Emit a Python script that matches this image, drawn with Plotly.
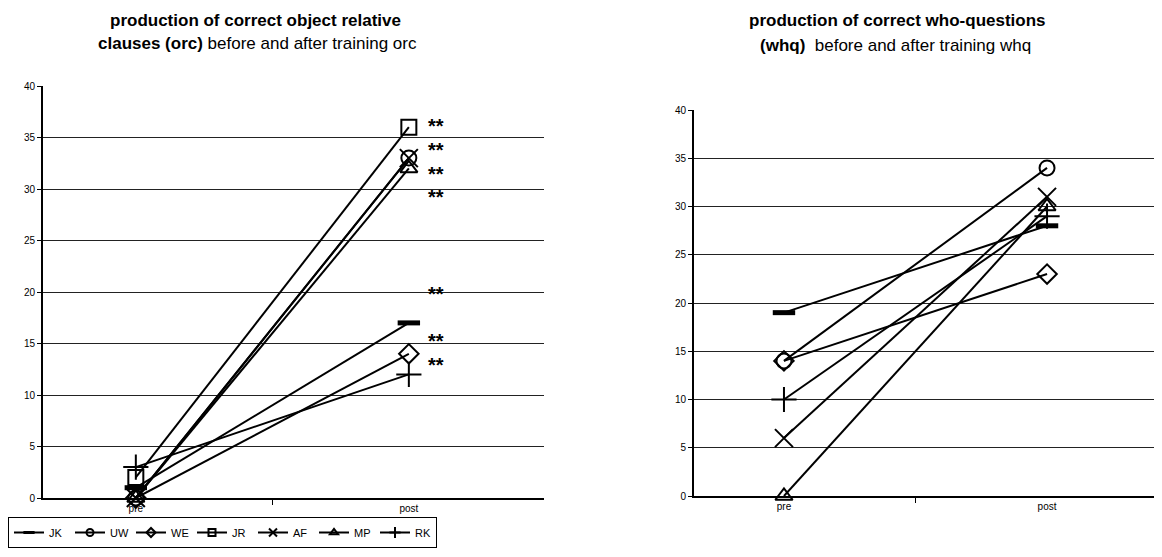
import plotly.graph_objects as go

phases = ["pre", "post"]
names = ["JK", "UW", "WE", "JR", "AF", "MP", "RK"]
symbols = ["line-ew", "circle-open", "diamond-open", "square-open", "x-thin", "triangle-up-open", "cross-thin"]

# Left chart: object relative clauses (orc)
orc = {
    "JK": [1, 17],
    "UW": [0, 33],
    "WE": [0, 14],
    "JR": [2, 36],
    "AF": [0, 33],
    "MP": [0, 32],
    "RK": [3, 12],
}
# Right chart: who-questions (whq)
whq = {
    "JK": [19, 28],
    "UW": [14, 34],
    "WE": [14, 23],
    "AF": [6, 31],
    "MP": [0, 30],
    "RK": [10, 29],
}
star_y = [36.1, 33.8, 31.5, 29.2, 19.8, 15.2, 12.9]
star_text = "**"

FONT = "Arial, Liberation Sans, sans-serif"

# page body has an 8px margin; size figure so it fills the window
OFF = 8
W = 1162 - OFF
H = 557 - OFF

def px(x):
    return max(0.0, min(1.0, (x - OFF) / W))

def py(y):
    return max(0.0, min(1.0, 1 - (y - OFF) / H))

fig = go.Figure()

def marker_for(sym, size_big=True):
    if sym == "line-ew":
        return dict(symbol=sym, size=16 if size_big else 8, color="black",
                    line=dict(color="black", width=5 if size_big else 3))
    if sym in ("x-thin", "cross-thin"):
        return dict(symbol=sym, size=18 if size_big else 8, color="black",
                    line=dict(color="black", width=2))
    return dict(symbol=sym, size=15 if size_big else 7, color="black",
                line=dict(color="black", width=2))

x_num = [0, 1]
for name, sym in zip(names, symbols):
    fig.add_trace(go.Scatter(
        x=x_num, y=orc[name], mode="lines+markers", name=name,
        line=dict(color="black", width=2), marker=marker_for(sym),
        cliponaxis=False, showlegend=False, xaxis="x", yaxis="y"))
    # legend entry with small marker
    fig.add_trace(go.Scatter(
        x=[None], y=[None], mode="lines+markers", name=name,
        line=dict(color="black", width=2), marker=marker_for(sym, False),
        showlegend=True, xaxis="x", yaxis="y"))

for name, sym in zip(names, symbols):
    if name not in whq:
        continue
    fig.add_trace(go.Scatter(
        x=x_num, y=whq[name], mode="lines+markers", name=name,
        line=dict(color="black", width=2), marker=marker_for(sym),
        cliponaxis=False, showlegend=False, xaxis="x2", yaxis="y2"))

annotations = []
for sy in star_y:
    annotations.append(dict(x=1.10, y=sy, xref="x", yref="y", text="<b>" + star_text + "</b>",
                            showarrow=False, font=dict(family=FONT, size=20, color="black"),
                            xanchor="center", yanchor="middle"))

annotations += [
    dict(x=px(255), y=py(20), xref="paper", yref="paper",
         text="<b>production of correct object relative</b>", showarrow=False,
         font=dict(family=FONT, size=17, color="black"), xanchor="center", yanchor="middle"),
    dict(x=px(257), y=py(43), xref="paper", yref="paper",
         text="<b>clauses (orc)</b> before and after training orc", showarrow=False,
         font=dict(family=FONT, size=17, color="black"), xanchor="center", yanchor="middle"),
    dict(x=px(897), y=py(21), xref="paper", yref="paper",
         text="<b>production of correct who-questions</b>", showarrow=False,
         font=dict(family=FONT, size=17, color="black"), xanchor="center", yanchor="middle"),
    dict(x=px(896), y=py(45), xref="paper", yref="paper",
         text="<b>(whq)</b>  before and after training whq", showarrow=False,
         font=dict(family=FONT, size=17, color="black"), xanchor="center", yanchor="middle"),
]

def xaxis_cfg(domain, rng):
    return dict(domain=domain, range=rng, tickmode="array", tickvals=[0, 1], ticktext=phases,
                ticks="", showgrid=False, zeroline=False, showline=True, linecolor="black",
                linewidth=2, tickfont=dict(family=FONT, size=10, color="black"),
                minor=dict(tickvals=[0.5], ticks="outside", ticklen=5, tickcolor="black", tickwidth=1),
                fixedrange=True, automargin=False)

def yaxis_cfg(domain, anchor):
    return dict(domain=domain, range=[0, 40], tickmode="array", tickvals=list(range(0, 41, 5)),
                ticks="outside", ticklen=4, tickcolor="black", showgrid=True, gridcolor="#222",
                gridwidth=1, zeroline=False, showline=True, linecolor="black", linewidth=2,
                tickfont=dict(family=FONT, size=10, color="black"), anchor=anchor,
                fixedrange=True, automargin=False)

fig.update_layout(
    width=W, height=H,
    margin=dict(l=0, r=0, t=0, b=0, autoexpand=False),
    paper_bgcolor="white", plot_bgcolor="white",
    xaxis=xaxis_cfg([px(43), px(544)], [-0.34, 1.495]),
    yaxis=yaxis_cfg([py(498), py(86)], "x"),
    xaxis2=dict(xaxis_cfg([px(694), 1.0], [-0.342, 1.437]), anchor="y2"),
    yaxis2=yaxis_cfg([py(496), py(110)], "x2"),
    annotations=annotations,
    showlegend=True,
    legend=dict(orientation="h", x=px(8), y=py(517), xanchor="left", yanchor="top",
                bordercolor="black", borderwidth=1, bgcolor="white",
                font=dict(family=FONT, size=11, color="black"),
                itemwidth=30, entrywidth=16, tracegroupgap=0),
)

fig.write_html("out.html")
